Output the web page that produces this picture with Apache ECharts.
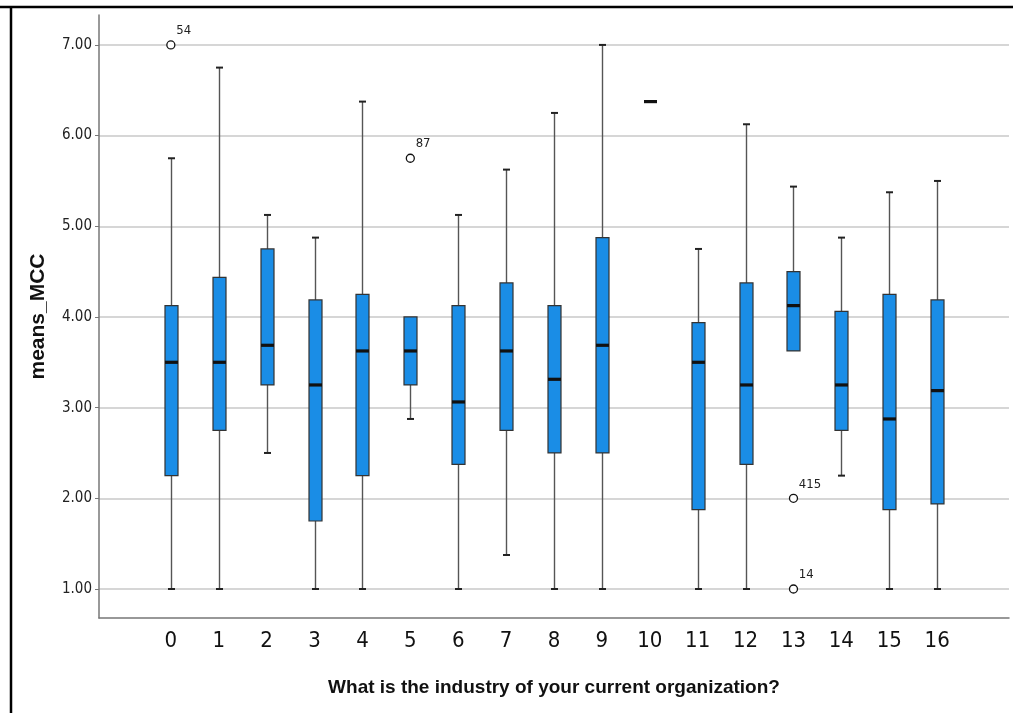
<!DOCTYPE html>
<html>
<head>
<meta charset="utf-8">
<script src="https://cdn.jsdelivr.net/npm/echarts@6/dist/echarts.min.js"></script>
<style>html,body{margin:0;padding:0;background:#fff}#c{width:1013px;height:713px}</style>
</head>
<body>
<div id="c"></div>
<script>
// Industry categories (x axis)
const categories = ['0','1','2','3','4','5','6','7','8','9','10','11','12','13','14','15','16'];
// Box statistics per category: [min whisker, Q1, median, Q3, max whisker]
const whiskerLow  = [1.00, 1.00, 2.50, 1.00, 1.00, 2.875, 1.00, 1.375, 1.00, 1.00, 6.375, 1.00, 1.00, 3.625, 2.25, 1.00, 1.00];
const q1Values    = [2.25, 2.75, 3.25, 1.75, 2.25, 3.25, 2.375, 2.75, 2.50, 2.50, 6.375, 1.875, 2.375, 3.625, 2.75, 1.875, 1.9375];
const medians     = [3.50, 3.50, 3.6875, 3.25, 3.625, 3.625, 3.0625, 3.625, 3.3125, 3.6875, 6.375, 3.50, 3.25, 4.125, 3.25, 2.875, 3.1875];
const q3Values    = [4.125, 4.4375, 4.75, 4.1875, 4.25, 4.00, 4.125, 4.375, 4.125, 4.875, 6.375, 3.9375, 4.375, 4.50, 4.0625, 4.25, 4.1875];
const whiskerHigh = [5.75, 6.75, 5.125, 4.875, 6.375, 4.00, 5.125, 5.625, 6.25, 7.00, 6.375, 4.75, 6.125, 5.4375, 4.875, 5.375, 5.50];
// Outliers: category, value, case label
const outlierCats   = ['0', '5', '13', '13'];
const outlierValues = [7.00, 5.75, 2.00, 1.00];
const outlierLabels = ['54', '87', '415', '14'];
// Y axis tick labels
const yTicks = [1, 2, 3, 4, 5, 6, 7];

const axisCats = [''].concat(categories, ['']);
const boxData = categories.map((c, i) => [c, whiskerLow[i], q1Values[i], medians[i], q3Values[i], whiskerHigh[i]]);
const outlierData = outlierCats.map((c, i) => ({ value: [c, outlierValues[i]], label: { formatter: outlierLabels[i] } }));

const FONT = '"DejaVu Sans Condensed", "Liberation Sans Narrow", "Liberation Sans", sans-serif';
const BOLD = '"Liberation Sans", "Noto Sans", sans-serif';

function renderBox(params, api) {
  const x = api.value(0);
  const lo = api.value(1), q1 = api.value(2), med = api.value(3), q3 = api.value(4), hi = api.value(5);
  const pLo = api.coord([x, lo]), pQ1 = api.coord([x, q1]), pMed = api.coord([x, med]);
  const pQ3 = api.coord([x, q3]), pHi = api.coord([x, hi]);
  const cx = Math.round(pMed[0]) + 0.5;
  const bw = 13, cw = 7;
  const children = [];
  const whiskerStyle = { stroke: '#555', lineWidth: 1.4 };
  const capStyle = { stroke: '#222', lineWidth: 2 };
  if (hi > q3) {
    children.push({ type: 'line', shape: { x1: cx, y1: pHi[1], x2: cx, y2: pQ3[1] }, style: whiskerStyle });
    children.push({ type: 'line', shape: { x1: cx - cw / 2, y1: pHi[1], x2: cx + cw / 2, y2: pHi[1] }, style: capStyle });
  }
  if (lo < q1) {
    children.push({ type: 'line', shape: { x1: cx, y1: pQ1[1], x2: cx, y2: pLo[1] }, style: whiskerStyle });
    children.push({ type: 'line', shape: { x1: cx - cw / 2, y1: pLo[1], x2: cx + cw / 2, y2: pLo[1] }, style: capStyle });
  }
  if (q3 > q1) {
    children.push({ type: 'rect', shape: { x: cx - bw / 2, y: pQ3[1], width: bw, height: pQ1[1] - pQ3[1] },
      style: { fill: '#1a8de6', stroke: '#333', lineWidth: 1.2 } });
  }
  children.push({ type: 'line', shape: { x1: cx - bw / 2, y1: pMed[1], x2: cx + bw / 2, y2: pMed[1] },
    style: { stroke: '#111', lineWidth: 3.2 } });
  return { type: 'group', children: children };
}

const chart = echarts.init(document.getElementById('c'), null, { renderer: 'canvas' });
chart.setOption({
  backgroundColor: '#fff',
  animation: false,
  grid: { left: 99, right: 4, top: 15, bottom: 95, containLabel: false },
  graphic: [
    { type: 'line', shape: { x1: 0, y1: 7, x2: 1013, y2: 7 }, style: { stroke: '#000', lineWidth: 2.5 } },
    { type: 'line', shape: { x1: 11, y1: 7, x2: 11, y2: 713 }, style: { stroke: '#000', lineWidth: 2.5 } }
  ],
  xAxis: {
    type: 'category',
    data: axisCats,
    boundaryGap: true,
    axisLine: { lineStyle: { color: '#777', width: 1.5 } },
    axisTick: { show: false },
    axisLabel: { color: '#111', fontSize: 22, fontFamily: FONT, margin: 12 },
    name: 'What is the industry of your current organization?',
    nameLocation: 'middle',
    nameGap: 60,
    nameTextStyle: { color: '#111', fontSize: 19, fontWeight: 'bold', fontFamily: BOLD }
  },
  yAxis: {
    type: 'value',
    min: 0.68,
    max: 7.33,
    axisLine: { show: true, lineStyle: { color: '#777', width: 1.5 } },
    axisTick: { show: true, length: 4, customValues: yTicks, lineStyle: { color: '#777' } },
    axisLabel: { color: '#222', fontSize: 15, fontFamily: FONT, margin: 7, customValues: yTicks,
      formatter: v => Number(v).toFixed(2) },
    splitLine: { show: true, lineStyle: { color: '#c8c8c8', width: 1.5 } },
    name: 'means_MCC',
    nameLocation: 'middle',
    nameGap: 50,
    nameRotate: 90,
    nameTextStyle: { color: '#111', fontSize: 21, fontWeight: 'bold', fontFamily: BOLD }
  },
  series: [
    {
      type: 'custom',
      renderItem: renderBox,
      encode: { x: 0, y: [1, 2, 3, 4, 5] },
      data: boxData,
      z: 3
    },
    {
      type: 'scatter',
      data: outlierData,
      symbol: 'circle',
      symbolSize: 8,
      itemStyle: { color: '#fff', borderColor: '#111', borderWidth: 1.3, opacity: 1 },
      label: { show: true, position: [10, -16], color: '#222', fontSize: 13, fontFamily: FONT },
      z: 4
    }
  ]
});
</script>
</body>
</html>
